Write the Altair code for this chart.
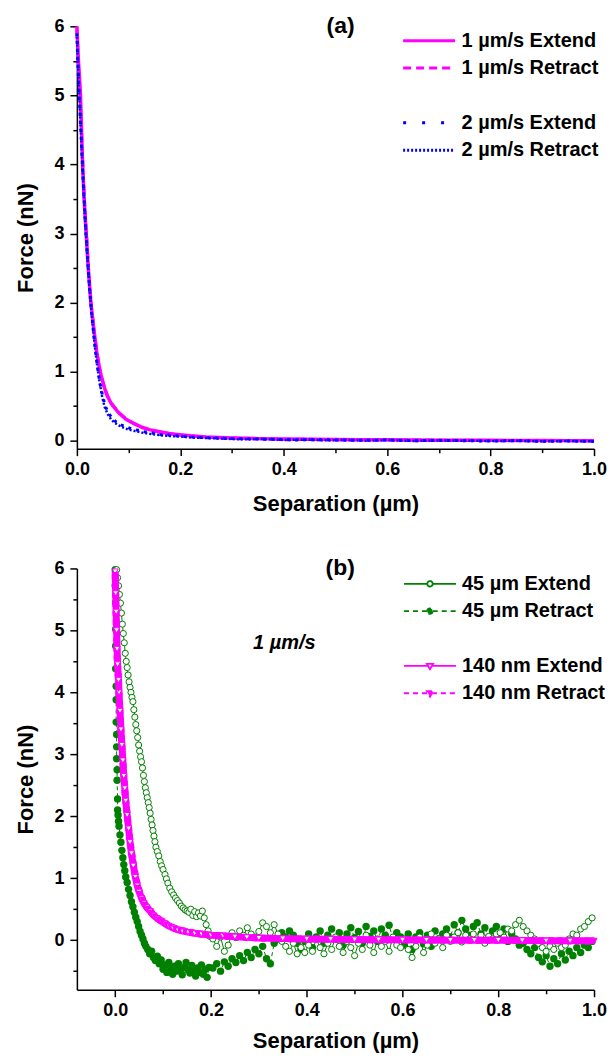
import altair as alt
import pandas as pd

FONT = "Liberation Sans"
MAG = "#FF00FF"
BLUE = "#0000FF"
GREEN = "#008000"

# ---------------- panel (a) data ----------------
A_EXT1_SEP = [0.000, 0.003, 0.007, 0.009, 0.011, 0.014, 0.018, 0.022, 0.027, 0.033,
              0.039, 0.045, 0.052, 0.058, 0.067, 0.080, 0.095, 0.110, 0.124, 0.140,
              0.160, 0.180, 0.200, 0.220, 0.250, 0.300, 0.350, 0.400, 0.450, 0.500,
              0.550, 0.600, 0.650, 0.700, 0.750, 0.800, 0.850, 0.900, 0.950, 1.000]
A_EXT1_F = [6.00, 5.50, 5.00, 4.50, 4.00, 3.50, 3.00, 2.50, 2.00, 1.60,
            1.25, 1.00, 0.80, 0.66, 0.53, 0.41, 0.31, 0.25, 0.20, 0.16,
            0.13, 0.10, 0.085, 0.07, 0.055, 0.04, 0.03, 0.025, 0.02, 0.018,
            0.015, 0.012, 0.01, 0.008, 0.006, 0.005, 0.004, 0.002, 0.001, 0.0]

A_RET1_SEP = [0.000, 0.003, 0.006, 0.009, 0.012, 0.015, 0.019, 0.023, 0.028, 0.034,
              0.040, 0.046, 0.053, 0.060, 0.070, 0.082, 0.096, 0.112, 0.126, 0.142,
              0.162, 0.182, 0.200, 0.225, 0.250, 0.300, 0.350, 0.400, 0.450, 0.500,
              0.550, 0.600, 0.650, 0.700, 0.750, 0.800, 0.850, 0.900, 0.950, 1.000]
A_RET1_F = [5.95, 5.45, 5.00, 4.45, 3.95, 3.45, 2.95, 2.45, 1.95, 1.55,
            1.22, 0.97, 0.78, 0.64, 0.51, 0.40, 0.31, 0.24, 0.19, 0.155,
            0.125, 0.10, 0.08, 0.065, 0.05, 0.038, 0.03, 0.022, 0.02, 0.015,
            0.014, 0.012, 0.01, 0.008, 0.007, 0.004, 0.004, 0.002, 0.001, -0.002]

A_EXT2_SEP = [0.000, 0.002, 0.005, 0.008, 0.011, 0.014, 0.017, 0.021, 0.025, 0.030,
              0.035, 0.040, 0.045, 0.050, 0.055, 0.061, 0.068, 0.076, 0.085, 0.095,
              0.106, 0.118, 0.130, 0.145, 0.160, 0.180, 0.200, 0.230, 0.260, 0.300,
              0.340, 0.380, 0.420, 0.460, 0.500, 0.550, 0.600, 0.650, 0.700, 0.750,
              0.800, 0.850, 0.900, 0.950, 1.000]
A_EXT2_F = [5.90, 5.45, 4.95, 4.45, 3.95, 3.50, 3.05, 2.60, 2.15, 1.72,
            1.36, 1.06, 0.82, 0.64, 0.50, 0.40, 0.33, 0.27, 0.23, 0.20,
            0.17, 0.15, 0.13, 0.11, 0.09, 0.08, 0.065, 0.05, 0.04, 0.03,
            0.025, 0.02, 0.01, 0.015, 0.01, 0.005, 0.01, 0.0, 0.005, 0.0,
            -0.005, 0.0, -0.01, -0.005, -0.01]

A_RET2_SEP = [0.000, 0.002, 0.004, 0.007, 0.010, 0.013, 0.016, 0.020, 0.024, 0.029,
              0.034, 0.039, 0.044, 0.049, 0.054, 0.060, 0.066, 0.073, 0.081, 0.090,
              0.100, 0.112, 0.125, 0.140, 0.155, 0.175, 0.200, 0.225, 0.250, 0.280,
              0.320, 0.360, 0.400, 0.440, 0.480, 0.520, 0.560, 0.600, 0.650, 0.700,
              0.750, 0.800, 0.850, 0.900, 0.950, 1.000]
A_RET2_F = [5.85, 5.50, 5.10, 4.60, 4.10, 3.62, 3.18, 2.70, 2.25, 1.80,
            1.42, 1.10, 0.84, 0.63, 0.48, 0.38, 0.31, 0.26, 0.22, 0.19,
            0.16, 0.14, 0.12, 0.10, 0.085, 0.07, 0.06, 0.045, 0.04, 0.03,
            0.02, 0.025, 0.01, 0.015, 0.005, 0.01, 0.0, 0.01, -0.005, 0.005,
            0.0, -0.005, 0.0, -0.01, -0.005, -0.01]

# ---------------- panel (b) data ----------------
GE_HEAD_SEP = [0.003, 0.005, 0.007, 0.009, 0.011, 0.013, 0.015, 0.017, 0.019, 0.021,
               0.023, 0.025, 0.027, 0.029, 0.031, 0.033, 0.035, 0.037, 0.039, 0.041,
               0.043, 0.045, 0.047, 0.049, 0.051, 0.053, 0.055, 0.057, 0.059, 0.061,
               0.063, 0.065, 0.067, 0.069, 0.071, 0.073, 0.075, 0.077, 0.079, 0.081,
               0.083, 0.085, 0.088, 0.091, 0.094, 0.097, 0.100, 0.104, 0.107, 0.110,
               0.114, 0.118, 0.122, 0.126, 0.130, 0.134, 0.138, 0.142, 0.146, 0.150,
               0.154, 0.158, 0.162, 0.166, 0.170, 0.174, 0.178, 0.182, 0.186, 0.190,
               0.194, 0.198]
GE_HEAD_F = [5.98, 5.85, 5.72, 5.58, 5.44, 5.28, 5.10, 4.95, 4.80, 4.63,
             4.50, 4.40, 4.28, 4.17, 4.08, 4.00, 3.92, 3.85, 3.72, 3.60,
             3.48, 3.38, 3.27, 3.15, 3.05, 2.96, 2.88, 2.78, 2.66, 2.56,
             2.46, 2.38, 2.30, 2.22, 2.14, 2.05, 1.95, 1.86, 1.77, 1.68,
             1.59, 1.50, 1.43, 1.36, 1.27, 1.20, 1.14, 1.06, 0.99, 0.92,
             0.84, 0.78, 0.73, 0.68, 0.64, 0.60, 0.55, 0.52, 0.49, 0.47,
             0.45, 0.50, 0.40, 0.46, 0.38, 0.44, 0.39, 0.47, 0.36, 0.25,
             0.15, 0.06]

GR_HEAD_SEP = [0.000, 0.000, 0.001, 0.001, 0.001, 0.001, 0.002, 0.002, 0.002, 0.003,
               0.003, 0.003, 0.004, 0.004, 0.005, 0.005, 0.006, 0.007, 0.008, 0.010,
               0.012, 0.014, 0.016, 0.018, 0.020, 0.022, 0.025, 0.028, 0.031, 0.034,
               0.037, 0.040, 0.043, 0.046, 0.049, 0.052, 0.055, 0.058, 0.061, 0.064,
               0.068, 0.072, 0.076, 0.080, 0.084, 0.088, 0.092, 0.096, 0.100, 0.104,
               0.108, 0.112, 0.116, 0.120, 0.124, 0.128, 0.132, 0.136, 0.140, 0.144,
               0.148, 0.152, 0.156, 0.160, 0.164, 0.168, 0.172, 0.176, 0.180, 0.184,
               0.188, 0.192, 0.196]
GR_HEAD_F = [5.98, 5.72, 5.45, 5.02, 4.75, 4.38, 4.10, 3.88, 3.52, 3.32,
             3.12, 2.93, 2.75, 2.58, 2.28, 2.10, 2.02, 1.92, 1.84, 1.70,
             1.58, 1.45, 1.33, 1.22, 1.12, 1.02, 0.93, 0.82, 0.72, 0.62,
             0.54, 0.45, 0.37, 0.30, 0.22, 0.14, 0.08, 0.02, -0.05, -0.10,
             -0.15, -0.22, -0.18, -0.28, -0.33, -0.26, -0.38, -0.32, -0.47, -0.40,
             -0.52, -0.36, -0.45, -0.55, -0.42, -0.50, -0.38, -0.47, -0.56, -0.44,
             -0.36, -0.48, -0.53, -0.41, -0.49, -0.58, -0.45, -0.52, -0.40, -0.55,
             -0.47, -0.60, -0.44]

TAIL_SEP = [0.204, 0.212, 0.220, 0.228, 0.236, 0.244, 0.252, 0.260, 0.268, 0.276,
            0.284, 0.292, 0.300, 0.308, 0.316, 0.324, 0.332, 0.340, 0.348, 0.356,
            0.364, 0.372, 0.380, 0.388, 0.396, 0.404, 0.412, 0.420, 0.428, 0.436,
            0.444, 0.452, 0.460, 0.468, 0.476, 0.484, 0.492, 0.500, 0.508, 0.516,
            0.524, 0.532, 0.540, 0.548, 0.556, 0.564, 0.572, 0.580, 0.588, 0.596,
            0.604, 0.612, 0.620, 0.628, 0.636, 0.644, 0.652, 0.660, 0.668, 0.676,
            0.684, 0.692, 0.700, 0.708, 0.716, 0.724, 0.732, 0.740, 0.748, 0.756,
            0.764, 0.772, 0.780, 0.788, 0.796, 0.804, 0.812, 0.820, 0.828, 0.836,
            0.844, 0.852, 0.860, 0.868, 0.876, 0.884, 0.892, 0.900, 0.908, 0.916,
            0.924, 0.932, 0.940, 0.948, 0.956, 0.964, 0.972, 0.980, 0.988, 0.996]

GR_TAIL_F = [-0.45, -0.38, -0.50, -0.35, -0.42, -0.30,
             -0.36, -0.25, -0.33, -0.20, -0.28, -0.15, -0.22,
             -0.10, -0.30, -0.38, -0.05, 0.02,
             0.12, 0.05, 0.15, 0.08, -0.05, -0.15, -0.02,
             0.10, -0.12, 0.05, 0.15, -0.05, 0.08,
             0.18, 0.02, 0.12, -0.08, 0.10, 0.20, 0.04,
             0.14, -0.05, 0.22, 0.06, 0.15, -0.02,
             0.18, 0.08, 0.24, 0.02, 0.12, 0.05,
             -0.08, 0.10, -0.15, 0.05, 0.12, -0.06,
             0.08, -0.10, 0.15, 0.02, 0.10, 0.18, 0.05,
             0.25, 0.12, 0.32, 0.18, 0.08, 0.22,
             0.28, 0.10, 0.20, 0.05, 0.15, 0.22,
             0.08, 0.18, -0.02, 0.10, 0.02, -0.08,
             -0.05, -0.15, -0.22, -0.12, -0.28, -0.35,
             -0.25, -0.42, -0.30, -0.38, -0.22, -0.32,
             -0.18, -0.25, -0.12, -0.20, -0.08, -0.12, -0.02]

GE_TAIL_F = [0.02, -0.10, 0.05, -0.18, -0.08, 0.12,
             0.04, 0.15, 0.08, 0.20, 0.10, 0.05, 0.14,
             0.28, 0.22, 0.12, 0.25, 0.10,
             -0.02, -0.10, -0.18, -0.05, -0.22, -0.12, -0.20,
             -0.08, -0.18, 0.02, -0.12, -0.22, -0.05,
             -0.15, 0.05, -0.10, -0.20, -0.02, -0.12, -0.25,
             -0.05, -0.15, 0.08, -0.08, -0.20, 0.02,
             -0.10, -0.02, -0.18, 0.05, -0.08, -0.12,
             0.02, -0.15, -0.28, -0.10, 0.05, -0.20,
             -0.08, 0.10, -0.05, 0.02, -0.12, 0.08, -0.02,
             0.05, 0.12, -0.03, 0.08, 0.02, 0.10,
             0.00, 0.08, -0.05, 0.06, 0.02, 0.10,
             0.12, 0.05, 0.18, 0.15, 0.25, 0.32,
             0.22, 0.15, 0.08, 0.02, -0.05, -0.12,
             -0.18, -0.10, -0.15, -0.05, -0.12, -0.08,
             0.02, 0.10, 0.08, 0.18, 0.22, 0.30, 0.36]

PE_SEP = [0.000, 0.001, 0.002, 0.003, 0.004, 0.005, 0.007, 0.008, 0.010, 0.012,
          0.014, 0.016, 0.018, 0.020, 0.022, 0.025, 0.028, 0.031, 0.034, 0.038,
          0.042, 0.046, 0.050, 0.055, 0.060, 0.066, 0.073, 0.080, 0.088, 0.096,
          0.104, 0.112, 0.120, 0.130, 0.140, 0.152, 0.166, 0.180, 0.200, 0.225,
          0.250, 0.275, 0.300, 0.350, 0.400, 0.450, 0.500, 0.550, 0.600, 0.650,
          0.700, 0.750, 0.800, 0.850, 0.900, 0.950, 1.000]
PE_F = [5.95, 5.60, 5.30, 5.00, 4.70, 4.45, 4.20, 4.00, 3.70, 3.40,
        3.15, 2.90, 2.65, 2.45, 2.25, 2.02, 1.80, 1.58, 1.40, 1.20,
        1.02, 0.88, 0.78, 0.68, 0.60, 0.53, 0.47, 0.40, 0.35, 0.31,
        0.27, 0.23, 0.20, 0.17, 0.15, 0.13, 0.11, 0.10, 0.08, 0.07,
        0.055, 0.045, 0.035, 0.025, 0.02, 0.015, 0.01, 0.008, 0.005, 0.003,
        0.0, 0.0, 0.0, -0.005, -0.01, -0.01, -0.01]

PR_SEP = [0.000, 0.001, 0.002, 0.003, 0.004, 0.006, 0.007, 0.009, 0.011, 0.013,
          0.015, 0.017, 0.019, 0.021, 0.024, 0.027, 0.030, 0.033, 0.036, 0.040,
          0.044, 0.048, 0.052, 0.057, 0.062, 0.068, 0.075, 0.082, 0.090, 0.098,
          0.106, 0.115, 0.125, 0.135, 0.146, 0.158, 0.172, 0.186, 0.205, 0.230,
          0.260, 0.290, 0.320, 0.370, 0.420, 0.470, 0.520, 0.570, 0.620, 0.670,
          0.720, 0.770, 0.820, 0.870, 0.920, 0.960, 1.000]
PR_F = [5.90, 5.50, 5.15, 4.85, 4.55, 4.30, 4.05, 3.80, 3.50, 3.25,
        3.00, 2.75, 2.52, 2.32, 2.10, 1.88, 1.66, 1.48, 1.32, 1.14,
        0.97, 0.85, 0.75, 0.66, 0.58, 0.51, 0.45, 0.39, 0.34, 0.30,
        0.26, 0.22, 0.19, 0.165, 0.145, 0.125, 0.105, 0.09, 0.075, 0.065,
        0.05, 0.04, 0.03, 0.022, 0.018, 0.012, 0.008, 0.006, 0.004, 0.002,
        0.0, -0.002, 0.0, -0.006, -0.01, -0.012, -0.015]

LEG_A = ["1 µm/s Extend", "1 µm/s Retract", " ", "2 µm/s Extend", "2 µm/s Retract"]
LEG_B = ["45 µm Extend", "45 µm Retract", " ", "140 nm Extend", "140 nm Retract"]
NOTE_B = ["1 µm/s"]
NOTE_B_SEP = [0.288]
NOTE_B_F = [4.80]
PANEL_A = ["(a)"]
PANEL_A_SEP = [0.51]
PANEL_B = ["(b)"]
PANEL_B_SEP = [0.47]
PANEL_F = [6.0]

X_MAJOR = [0.0, 0.2, 0.4, 0.6, 0.8, 1.0]
X_MINOR = [0.1, 0.3, 0.5, 0.7, 0.9]
Y_MAJOR = [0, 1, 2, 3, 4, 5, 6]
Y_MINOR_A = [0.5, 1.5, 2.5, 3.5, 4.5, 5.5]
Y_MINOR_B = [-0.5, 0.5, 1.5, 2.5, 3.5, 4.5, 5.5]

# legend symbol paths: line with a marker in the middle
SYM_CIRCLE = "M-1,0H-0.105M0.105,0H1M-0.105,0A0.105,0.105,0,1,1,0.105,0A0.105,0.105,0,1,1,-0.105,0Z"
SYM_TRI = "M-1,0H-0.074M0.074,0H1M-0.12,-0.08L0.12,-0.08L0,0.13Z"


def frame(sep, f):
    return pd.DataFrame({"sep": sep, "f": f, "i": list(range(len(sep)))})


def main_enc(xdom, ydom, xtitle_pad):
    return dict(
        x=alt.X("sep:Q", scale=alt.Scale(domain=xdom, nice=False, zero=False),
                axis=alt.Axis(values=X_MAJOR, format=".1f", title="Separation (µm)", tickSize=7,
                              labelPadding=5, titlePadding=xtitle_pad, labelFlush=False,
                              labelOverlap=False, grid=False, orient="bottom")),
        y=alt.Y("f:Q", scale=alt.Scale(domain=ydom, nice=False, zero=False),
                axis=alt.Axis(values=Y_MAJOR, format="d", title="Force (nN)", tickSize=7,
                              labelPadding=6, titlePadding=16, labelFlush=False,
                              labelOverlap=False, grid=False, orient="left")),
    )


def minor_layer(xdom, ydom, yminor):
    return alt.Chart(pd.DataFrame({"sep": [xdom[0]], "f": [ydom[0]]})).mark_point(opacity=0).encode(
        x=alt.X("sep:Q", scale=alt.Scale(domain=xdom, nice=False, zero=False),
                axis=alt.Axis(values=X_MINOR, labels=False, tickSize=4, domain=False,
                              title=None, grid=False, orient="bottom")),
        y=alt.Y("f:Q", scale=alt.Scale(domain=ydom, nice=False, zero=False),
                axis=alt.Axis(values=yminor, labels=False, tickSize=4, domain=False,
                              title=None, grid=False, orient="left")),
    )


def text_layer(sep, f, t, enc, size, style="normal", align="center"):
    return alt.Chart(pd.DataFrame({"sep": sep, "f": f, "t": t})).mark_text(
        align=align, baseline="middle", font=FONT, fontSize=size, fontStyle=style,
        fontWeight="bold", color="black",
    ).encode(text="t:N", **enc)


# ---------------- panel (a) ----------------
XA, YA = [0.0, 1.0], [-0.115, 6.0]
ea = main_enc(XA, YA, 14.5)

a_layers = [
    alt.Chart(frame(A_EXT1_SEP, A_EXT1_F)).mark_line(color=MAG, strokeWidth=3.5).encode(order="i:Q", **ea),
    alt.Chart(frame(A_RET1_SEP, A_RET1_F)).mark_line(color=MAG, strokeWidth=3, strokeDash=[8, 5]).encode(order="i:Q", **ea),
    alt.Chart(frame(A_EXT2_SEP, A_EXT2_F)).mark_line(color=BLUE, strokeWidth=3, strokeDash=[3, 5]).encode(order="i:Q", **ea),
    alt.Chart(frame(A_RET2_SEP, A_RET2_F)).mark_line(color=BLUE, strokeWidth=2.5, strokeDash=[2, 2]).encode(order="i:Q", **ea),
    text_layer(PANEL_A_SEP, PANEL_F, PANEL_A, ea, 23),
]

leg_a = alt.Legend(orient="none", legendX=325.3, legendY=3.9, title=None,
                   labelFont=FONT, labelFontSize=20, labelFontWeight="bold", labelColor="black",
                   symbolType="stroke", symbolSize=2704, symbolStrokeWidth=3,
                   clipHeight=21, rowPadding=6.4, labelOffset=5, padding=0)
legend_a = alt.Chart(pd.DataFrame({"s": LEG_A})).mark_line().encode(
    x=alt.value(0), y=alt.value(0),
    stroke=alt.Stroke("s:N", scale=alt.Scale(domain=LEG_A, range=[MAG, MAG, "transparent", BLUE, BLUE]), legend=leg_a),
    strokeDash=alt.StrokeDash("s:N", scale=alt.Scale(domain=LEG_A, range=[[1, 0], [8, 5], [1, 0], [3, 16], [2, 2]]), legend=leg_a),
).transform_filter("false")

chart_a = alt.layer(
    alt.layer(*a_layers, legend_a),
    minor_layer(XA, YA, Y_MINOR_A),
).resolve_axis(x="independent", y="independent").properties(width=518, height=423)

# ---------------- panel (b) ----------------
XB, YB = [-0.08, 1.0], [-0.8, 6.0]
eb = main_enc(XB, YB, 11)

ge = frame(GE_HEAD_SEP + TAIL_SEP, GE_HEAD_F + GE_TAIL_F)
gr = frame(GR_HEAD_SEP + TAIL_SEP, GR_HEAD_F + GR_TAIL_F)
pe = frame(PE_SEP, PE_F)
pr = frame(PR_SEP, PR_F)

b_layers = [
    alt.Chart(gr).mark_line(color=GREEN, strokeWidth=1, strokeDash=[4, 3]).encode(order="i:Q", **eb),
    alt.Chart(gr).mark_point(shape="circle", filled=True, color=GREEN, size=55, opacity=1).encode(**eb),
    alt.Chart(ge).mark_line(color=GREEN, strokeWidth=1).encode(order="i:Q", **eb),
    alt.Chart(ge).mark_point(shape="circle", filled=True, fill="white", stroke=GREEN, strokeWidth=1, size=38, opacity=1).encode(**eb),
    alt.Chart(pr).mark_line(color=MAG, strokeWidth=7, strokeDash=[5, 4]).encode(order="i:Q", **eb),
    alt.Chart(pe).mark_line(color=MAG, strokeWidth=7).encode(order="i:Q", **eb),
    alt.Chart(pe).mark_point(shape="triangle-down", filled=True, fill="white", stroke=MAG, strokeWidth=1, size=36, opacity=1).encode(**eb),
    alt.Chart(pr).mark_point(shape="triangle-down", filled=True, color=MAG, size=40, opacity=1).encode(**eb),
    text_layer(NOTE_B_SEP, NOTE_B_F, NOTE_B, eb, 20, style="italic", align="left"),
    text_layer(PANEL_B_SEP, PANEL_F, PANEL_B, eb, 23),
]

leg_b = alt.Legend(orient="none", legendX=326.7, legendY=4.9, title=None,
                   labelFont=FONT, labelFontSize=20, labelFontWeight="bold", labelColor="black",
                   symbolSize=2704, symbolStrokeWidth=1.8,
                   clipHeight=21, rowPadding=6.4, labelOffset=5, padding=0)
legend_b = alt.Chart(pd.DataFrame({"s": LEG_B})).mark_point(filled=False, opacity=1).encode(
    x=alt.value(0), y=alt.value(0),
    stroke=alt.Stroke("s:N", scale=alt.Scale(domain=LEG_B, range=[GREEN, GREEN, "transparent", MAG, MAG]), legend=leg_b),
    fill=alt.Fill("s:N", scale=alt.Scale(domain=LEG_B, range=["white", GREEN, "transparent", "white", MAG]), legend=leg_b),
    shape=alt.Shape("s:N", scale=alt.Scale(domain=LEG_B, range=[SYM_CIRCLE, SYM_CIRCLE, SYM_CIRCLE, SYM_TRI, SYM_TRI]), legend=leg_b),
    strokeDash=alt.StrokeDash("s:N", scale=alt.Scale(domain=LEG_B, range=[[1, 0], [5, 4], [1, 0], [1, 0], [5, 4]]), legend=leg_b),
).transform_filter("false")

chart_b = alt.layer(
    alt.layer(*b_layers, legend_b),
    minor_layer(XB, YB, Y_MINOR_B),
).resolve_axis(x="independent", y="independent").properties(width=518, height=422)

chart = alt.vconcat(chart_a, chart_b, spacing=43).resolve_scale(
    x="independent", y="independent", stroke="independent", strokeDash="independent",
    fill="independent", shape="independent",
).resolve_legend(
    stroke="independent", strokeDash="independent", fill="independent", shape="independent",
).configure_view(stroke=None).configure_axis(
    domainColor="black", domainWidth=1.5, tickColor="black", tickWidth=1.5,
    labelFont=FONT, labelFontSize=18, labelFontWeight="bold", labelColor="black",
    titleFont=FONT, titleFontSize=22, titleFontWeight="bold", titleColor="black",
).properties(padding={"top": 6.5, "left": 6, "right": 0, "bottom": 0})

chart.save("out.html", embed_options={"renderer": "svg", "actions": False})
